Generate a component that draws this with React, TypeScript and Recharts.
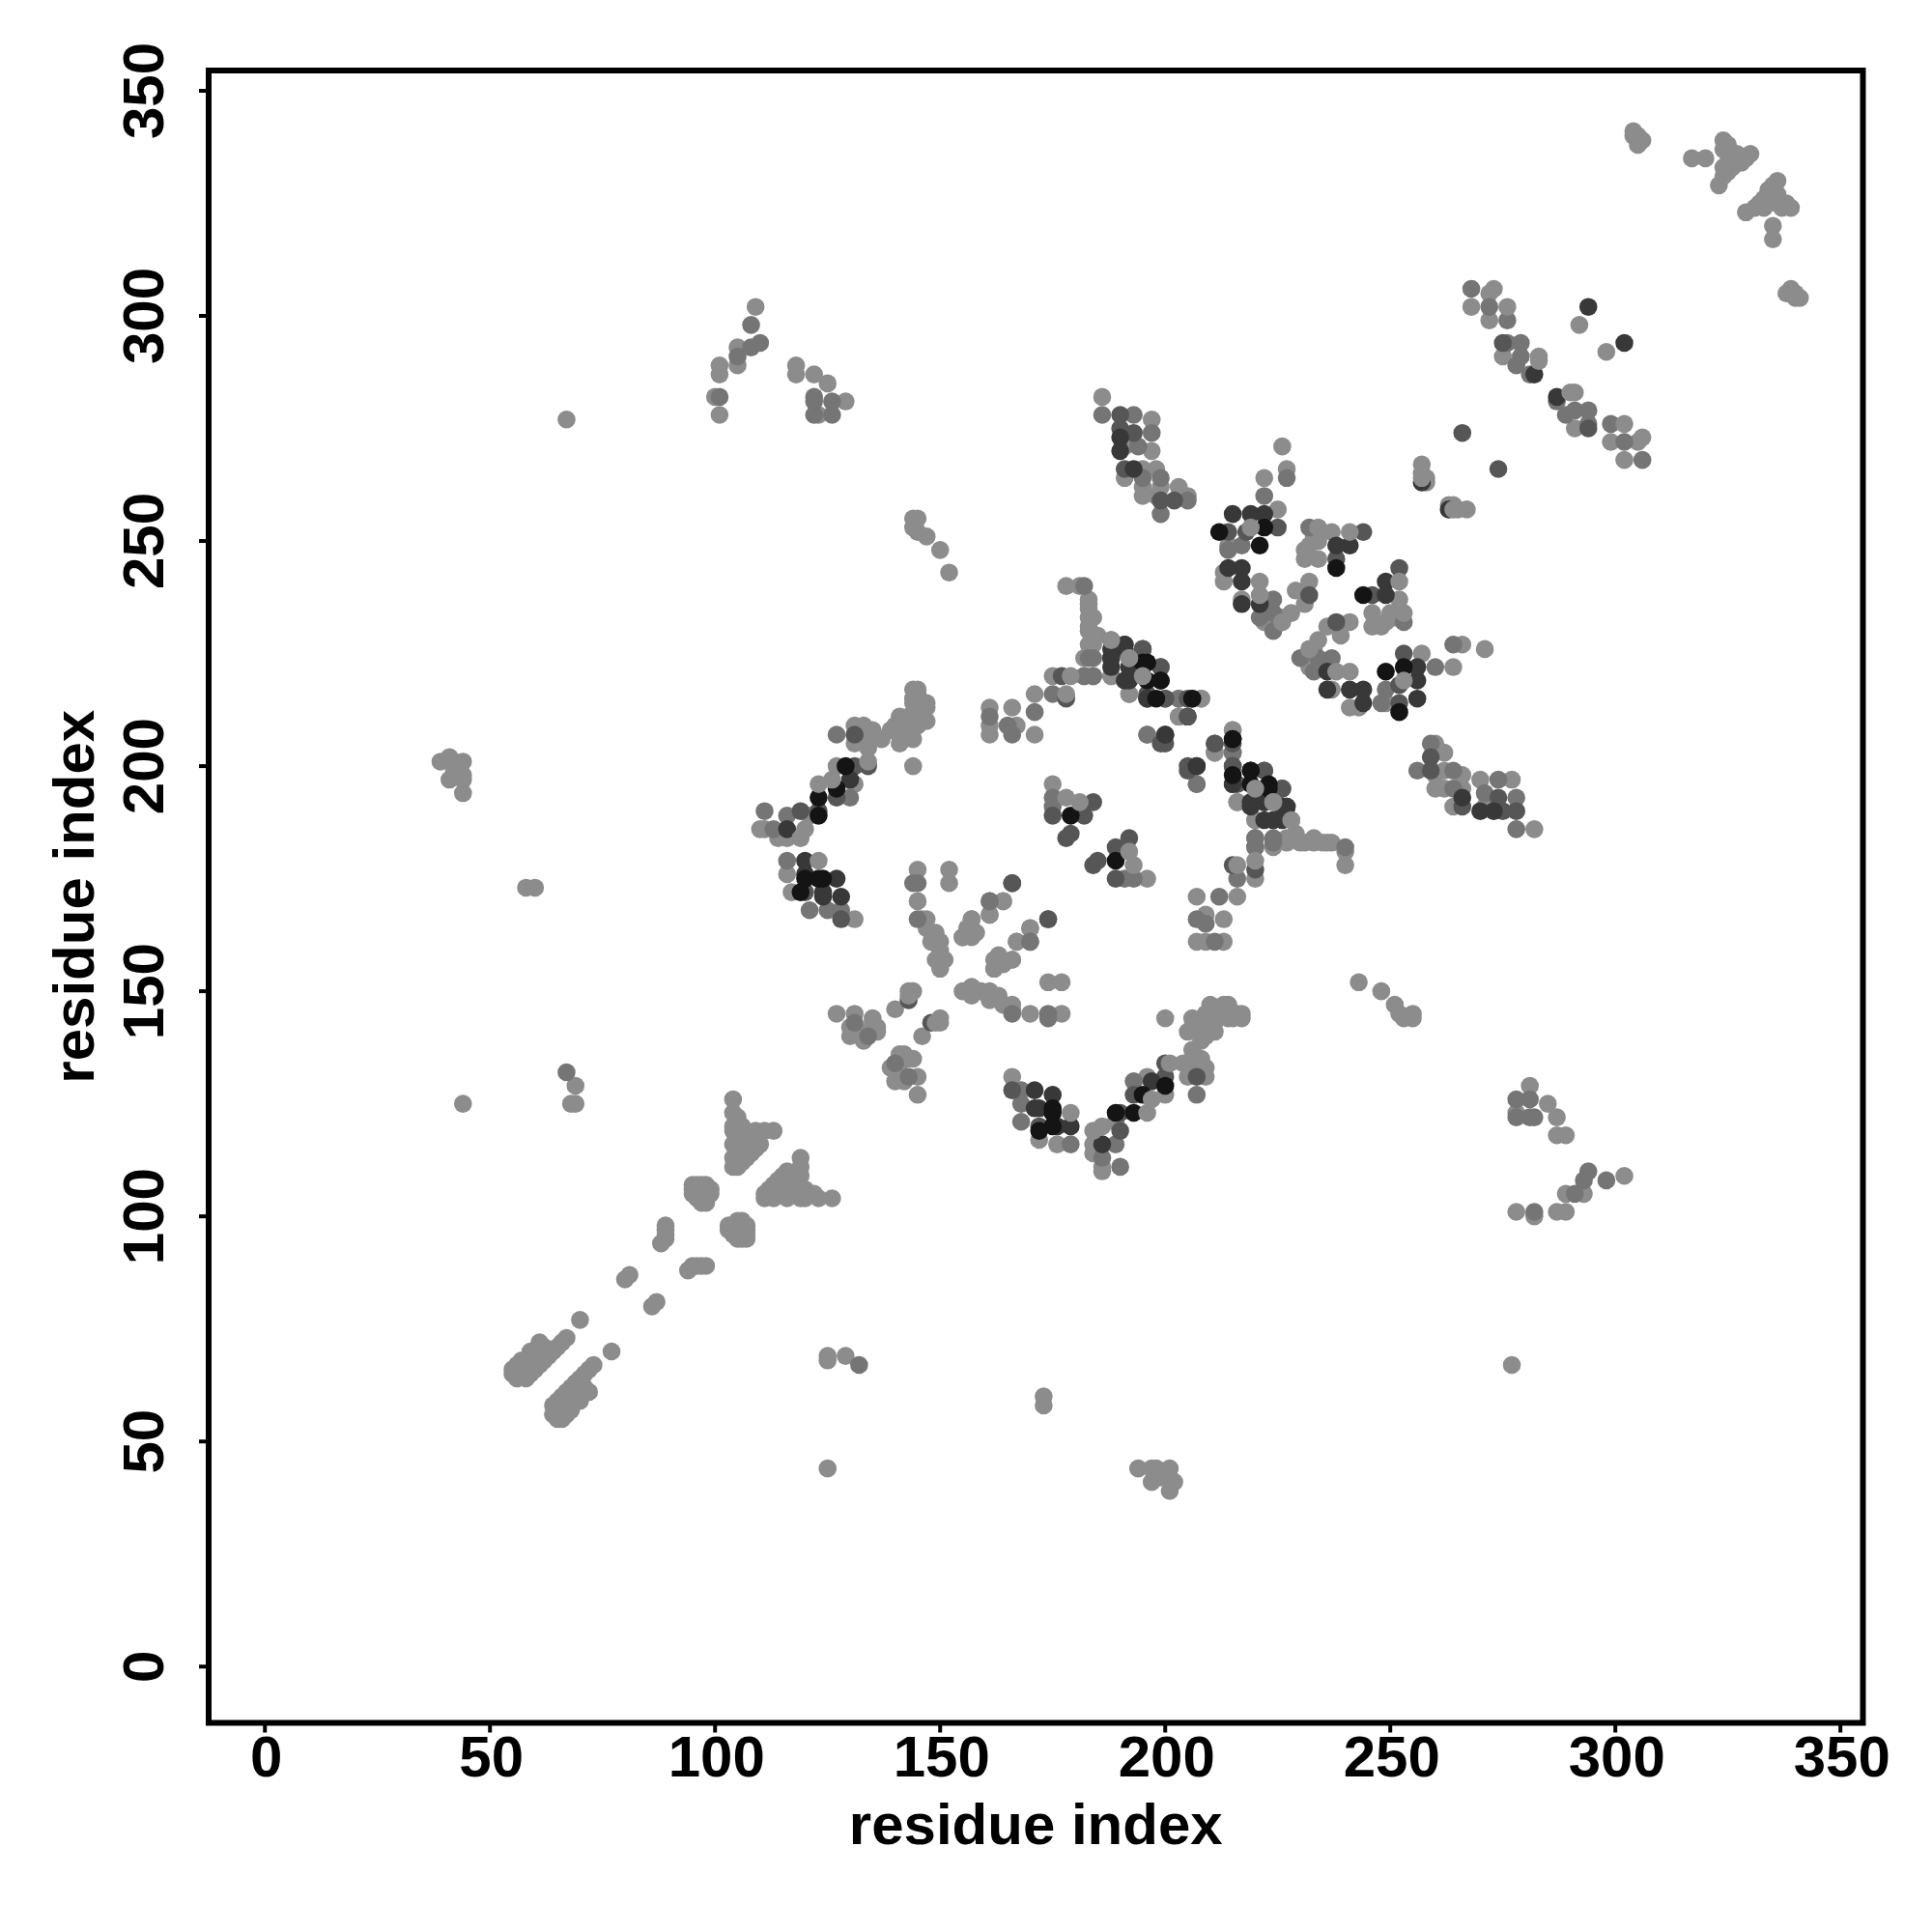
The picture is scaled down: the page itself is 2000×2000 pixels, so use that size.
import React from 'react';
import {
  ScatterChart,
  Scatter,
  XAxis,
  YAxis,
  ReferenceArea,
} from 'recharts';

// Residue contact map. Only the x > y half is listed, the other half is the same contacts swapped.
type Contact = [number, number];

const AXIS_TICKS = [0, 50, 100, 150, 200, 250, 300, 350];
const AXIS_TITLE = 'residue index';

const lightContacts: Contact[] = [
  [73, 67], [72, 66], [71, 65], [70, 64], [69, 63], [68, 62], [67, 61], [66, 60], [65, 59], [64, 58],
  [77, 70], [72, 61], [71, 62], [70, 60], [70, 59], [69, 61], [68, 60], [68, 57], [67, 59], [67, 56],
  [66, 58], [66, 56], [66, 55], [65, 57], [65, 55], [64, 56],
  [87, 81], [86, 80], [94, 88], [95, 89], [96, 89], [97, 89], [98, 89],
  [103, 97], [103, 98], [104, 96], [104, 98], [105, 99], [106, 99], [107, 98], [107, 97], [107, 96], [107, 95], [106, 95], [105, 95],
  [111, 105], [112, 106], [113, 107], [114, 108], [115, 109], [116, 110], [111, 104], [113, 104], [116, 104], [119, 104],
  [120, 104], [123, 104], [126, 104], [119, 113], [119, 111], [118, 108], [117, 107], [119, 109], [120, 106], [118, 106],
  [117, 105], [120, 105], [122, 105], [116, 106],
  [125, 69], [125, 68], [129, 69], [125, 44], [173, 60], [173, 58],
  [194, 44], [197, 44], [197, 41], [198, 44], [201, 44], [201, 42], [202, 41], [201, 39], [199, 42],
  [145, 127], [145, 131], [142, 136], [144, 135], [143, 135], [141, 136], [140, 130], [139, 133], [141, 132], [142, 130],
  [146, 140], [150, 143], [157, 151], [155, 150], [157, 149], [159, 150], [161, 150], [161, 148],
  [163, 149], [164, 147], [166, 147], [166, 146], [170, 145], [177, 145], [174, 152], [177, 152], [162, 155], [162, 157],
  [164, 156], [166, 157], [167, 161], [170, 164], [161, 167], [164, 170], [157, 166], [157, 163], [155, 162], [158, 163],
  [166, 131], [172, 117], [176, 116], [186, 110], [186, 111], [184, 114], [184, 116],
  [189, 121], [196, 131], [200, 127], [204, 134], [205, 131], [209, 131], [208, 135],
  [206, 135], [206, 137], [209, 133], [200, 144], [207, 133],
  [210, 147], [213, 147], [214, 147], [217, 145], [217, 144], [215, 145], [215, 144], [214, 144], [211, 144], [209, 140],
  [205, 141], [206, 144], [207, 141], [211, 141], [211, 143], [208, 139], [207, 143], [209, 145], [212, 146], [214, 146],
  [216, 145], [208, 143], [210, 142], [206, 142],
  [240, 178], [236, 183], [237, 183], [233, 184], [233, 183], [230, 183], [227, 183], [227, 184], [229, 185],
  [215, 208], [211, 203], [216, 192], [220, 188], [196, 207], [188, 220], [192, 216],
  [203, 211], [208, 215], [182, 224], [220, 175], [216, 171], [207, 171], [213, 166], [213, 161],
  [209, 167], [207, 161], [209, 161], [196, 175], [240, 181], [231, 183], [235, 183], [229, 184],
  [252, 237], [250, 234], [246, 234], [246, 231], [249, 232], [241, 232], [236, 231], [234, 228],
  [232, 222], [237, 217], [241, 213], [243, 213], [257, 225], [264, 222], [266, 227],
  [271, 226], [249, 214], [239, 229], [233, 226], [248, 231], [251, 233],
  [282, 186], [277, 197], [270, 197], [271, 191], [266, 195], [266, 198], [264, 191], [262, 203], [260, 205], [260, 198],
  [262, 199], [260, 195], [262, 195],
  [298, 292], [291, 275], [299, 272], [306, 273], [305, 272], [302, 268],
  [263, 258], [264, 258],
  [243, 152], [248, 150], [251, 147], [255, 145], [255, 144], [252, 145], [253, 144],
  [281, 129], [285, 125], [278, 123], [287, 122], [287, 118], [289, 118], [302, 109], [293, 105], [289, 105], [287, 101],
  [289, 101], [278, 101], [282, 100], [277, 67],
  [329, 323], [331, 324], [332, 325], [333, 326], [334, 328], [335, 329], [336, 330], [335, 326], [336, 325], [337, 325],
  [338, 325], [339, 324], [337, 324], [335, 320], [335, 317], [333, 324], [334, 325], [335, 327], [336, 327],
  [339, 306], [341, 304], [338, 305], [340, 304], [340, 305],
];

const midContacts: Contact[] = [
  [132, 67], [166, 145], [174, 145], [174, 144], [161, 170], [170, 161], [143, 131], [140, 134],
  [168, 128], [168, 125], [168, 121], [179, 116], [190, 111], [186, 113], [189, 116], [193, 130], [207, 127],
  [240, 182], [224, 183], [220, 184], [220, 182], [215, 203], [207, 196], [188, 228], [203, 215], [182, 220], [184, 220],
  [184, 224], [216, 175], [212, 171], [207, 166], [209, 165], [211, 161], [193, 175], [191, 175],
  [253, 232], [230, 224], [234, 224], [237, 224], [233, 221], [260, 222], [264, 227], [249, 217], [248, 214],
  [278, 186], [278, 193], [274, 197], [271, 194], [264, 199], [256, 199], [259, 205], [264, 195],
  [287, 281], [294, 279], [291, 279], [294, 276], [299, 276], [302, 272], [306, 268], [289, 278],
  [278, 126], [281, 126], [278, 122], [282, 122], [281, 122], [294, 110], [293, 108], [298, 108], [291, 105], [282, 101],
];

const darkContacts: Contact[] = [
  [148, 143], [174, 166], [166, 174],
  [166, 128], [172, 120], [190, 119], [190, 123], [193, 127], [200, 131], [207, 131], [200, 134],
  [226, 195], [224, 188], [222, 199], [216, 196], [215, 200], [211, 205], [205, 199], [200, 205], [199, 222], [195, 226],
  [200, 215], [205, 215], [205, 211], [192, 184], [189, 182], [185, 179], [184, 178], [189, 175], [220, 177], [215, 178],
  [252, 244], [238, 232], [253, 225], [252, 218], [252, 214], [246, 238],
  [278, 190], [275, 190], [274, 193], [266, 191], [259, 202], [259, 199],
  [274, 266], [294, 275],
];

const darkerContacts: Contact[] = [
  [171, 128], [171, 124], [172, 124], [175, 127], [176, 120], [179, 120], [186, 116], [197, 130],
  [226, 191], [227, 191], [222, 188], [219, 192], [222, 192], [215, 196], [207, 200], [200, 207], [191, 227], [188, 226],
  [191, 219], [192, 222], [188, 224], [196, 215], [215, 206], [222, 195],
  [249, 241], [249, 238], [244, 217], [244, 214], [241, 217], [256, 222], [256, 219], [256, 215], [236, 221], [236, 217],
  [273, 190], [270, 190], [266, 193],
  [302, 294], [287, 282], [263, 257],
];

const blackContacts: Contact[] = [
  [175, 124], [175, 123], [175, 120], [189, 123], [193, 123], [195, 127], [200, 129], [172, 119],
  [223, 196], [219, 199], [195, 223], [196, 219], [199, 219], [198, 215], [206, 215], [189, 179],
  [244, 238], [249, 221], [253, 222], [252, 212],
];

// light contacts that sit on top of the darker ones in the picture
const overlayContacts: Contact[] = [
  [192, 224], [224, 192], [220, 195], [228, 188], [253, 219], [252, 241], [196, 123], [197, 126], [184, 119], [186, 120],
  [201, 134], [179, 123], [290, 283], [291, 283], [302, 276], [150, 144], [149, 143], [232, 226], [241, 221], [238, 221],
  [253, 234], [193, 178], [192, 181], [216, 178], [220, 179], [264, 257], [265, 257], [267, 257],
];

const SERIES: { contacts: Contact[]; fill: string }[] = [
  { contacts: lightContacts, fill: '#8c8c8c' },
  { contacts: midContacts, fill: '#757575' },
  { contacts: darkContacts, fill: '#565656' },
  { contacts: darkerContacts, fill: '#383838' },
  { contacts: blackContacts, fill: '#141414' },
  { contacts: overlayContacts, fill: '#8c8c8c' },
];

const bothHalves = (contacts: Contact[]) =>
  contacts.flatMap(([i, j]) => [
    { x: i, y: j },
    { x: j, y: i },
  ]);

const FONT = '"Liberation Sans", Arial, sans-serif';

const XTick = ({ x, y, payload }: any) => (
  <text x={x + 1.5} y={y + 43} textAnchor="middle" fontFamily={FONT} fontWeight="bold" fontSize={60} fill="#000">
    {payload.value}
  </text>
);

const YTick = ({ x, y, payload }: any) => (
  <text
    x={x - 35}
    y={y}
    textAnchor="middle"
    fontFamily={FONT}
    fontWeight="bold"
    fontSize={60}
    fill="#000"
    transform={`rotate(-90 ${x - 35} ${y})`}
  >
    {payload.value}
  </text>
);

const ContactDot = ({ cx, cy, fill }: any) => <circle cx={cx} cy={cy} r={9.3} fill={fill} />;

export default function App() {
  return (
    <div style={{ position: 'absolute', left: 0, top: 0, width: 2000, height: 2000, background: '#fff' }}>
      <ScatterChart
        width={2000}
        height={2000}
        margin={{ top: 73, right: 71.5, bottom: 116.5, left: 116 }}
      >
        <XAxis
          type="number"
          dataKey="x"
          domain={[-12.5, 355]}
          ticks={AXIS_TICKS}
          interval={0}
          height={100}
          tick={<XTick />}
          tickSize={10}
          axisLine={false}
          tickLine={{ stroke: '#000', strokeWidth: 4 }}
          label={{
            value: AXIS_TITLE,
            position: 'insideBottom',
            offset: -25,
            fontFamily: FONT,
            fontWeight: 'bold',
            fontSize: 60,
            fill: '#000',
          }}
        />
        <YAxis
          type="number"
          dataKey="y"
          domain={[-12.5, 354.5]}
          ticks={AXIS_TICKS}
          interval={0}
          width={100}
          tick={<YTick />}
          tickSize={10}
          axisLine={false}
          tickLine={{ stroke: '#000', strokeWidth: 4 }}
          label={{
            value: AXIS_TITLE,
            angle: -90,
            position: 'insideLeft',
            offset: -40,
            fontFamily: FONT,
            fontWeight: 'bold',
            fontSize: 60,
            fill: '#000',
            style: { textAnchor: 'middle' },
          }}
        />
        {SERIES.map((series, index) => (
          <Scatter
            key={index}
            data={bothHalves(series.contacts)}
            fill={series.fill}
            shape={<ContactDot />}
            isAnimationActive={false}
          />
        ))}
        <ReferenceArea
          x1={-12.5}
          x2={355}
          y1={-12.5}
          y2={354.5}
          fill="none"
          stroke="#000"
          strokeWidth={6}
          ifOverflow="visible"
        />
      </ScatterChart>
    </div>
  );
}
